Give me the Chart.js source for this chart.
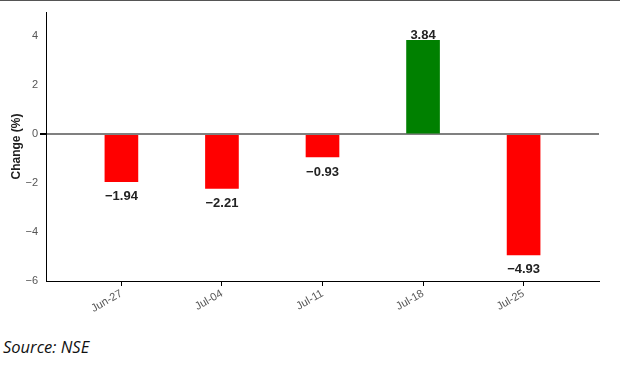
<!DOCTYPE html>
<html>
<head>
<meta charset="utf-8">
<script src="https://cdn.jsdelivr.net/npm/chart.js@4/dist/chart.umd.min.js"></script>
<style>
  body { margin: 0; background: #fff; }
  #wrap { position: relative; width: 620px; height: 372px; overflow: hidden; }
  #topline { position: absolute; left: 0; top: 0; width: 620px; height: 1px; background: #555; }
  #chart-box { position: absolute; left: 0; top: 0; width: 620px; height: 312px; }
  #source { position: absolute; left: 3px; top: 335px; font-family: 'Open Sans', sans-serif; font-style: italic; font-size: 16.5px; color: #111; }
</style>
</head>
<body>
<div id="wrap">
  <div id="chart-box"><canvas id="chart"></canvas></div>
  <div id="topline"></div>
  <div id="source">Source: NSE</div>
</div>
<script>
'use strict';
const categories = ['Jun-27', 'Jul-04', 'Jul-11', 'Jul-18', 'Jul-25'];
const changes = [-1.94, -2.21, -0.93, 3.84, -4.93];
const yTicks = [-6, -4, -2, 0, 2, 4];

const red = '#ff0000';
const green = '#008000';

function minusSign(v) {
  return String(v).replace('-', '\u2212');
}

// value labels above / below each bar
const barLabels = {
  id: 'barLabels',
  afterDatasetsDraw(chart) {
    const ctx = chart.ctx;
    const meta = chart.getDatasetMeta(0);
    ctx.save();
    ctx.font = 'bold 13px "Liberation Sans", Arial, sans-serif';
    ctx.fillStyle = '#222';
    ctx.textAlign = 'center';
    ctx.textBaseline = 'middle';
    meta.data.forEach(function (bar, i) {
      const v = changes[i];
      const txt = minusSign(v.toFixed(2));
      if (v >= 0) {
        ctx.fillText(txt, bar.x, bar.y - 5);
      } else {
        ctx.fillText(txt, bar.x, bar.y + 15);
      }
    });
    ctx.restore();
  }
};

const points = [];
for (let i = 0; i < changes.length; i++) {
  points.push({ x: i, y: changes[i] });
}

new Chart(document.getElementById('chart'), {
  type: 'bar',
  data: {
    datasets: [{
      data: points,
      backgroundColor: changes.map(v => v >= 0 ? green : red),
      borderWidth: 0,
      barThickness: 33
    }]
  },
  options: {
    responsive: true,
    maintainAspectRatio: false,
    animation: false,
    layout: { padding: { left: 0, top: 12, right: 21, bottom: 0 } },
    plugins: { legend: { display: false }, tooltip: { enabled: false } },
    scales: {
      x: {
        type: 'linear',
        offset: false,
        min: -0.75,
        max: 4.75,
        afterBuildTicks(scale) {
          scale.ticks = categories.map((c, i) => ({ value: i }));
        },
        afterFit(scale) { scale.height = 31; },
        grid: { offset: false, drawOnChartArea: false, drawTicks: true, tickLength: 5, tickColor: '#000' },
        border: { display: true, color: '#000', width: 1 },
        ticks: {
          autoSkip: false,
          maxRotation: 30,
          minRotation: 30,
          padding: 1,
          color: '#555',
          font: { family: '"Liberation Sans", Arial, sans-serif', size: 11 },
          callback: (v, i) => categories[i]
        }
      },
      y: {
        min: -6,
        max: 5,
        afterBuildTicks(scale) {
          scale.ticks = yTicks.map(v => ({ value: v }));
        },
        afterFit(scale) { scale.width = 46; },
        grid: {
          drawTicks: true,
          tickLength: 6,
          tickColor: '#000',
          color: c => (c.tick && c.tick.value === 0) ? '#808080' : 'rgba(0,0,0,0)',
          lineWidth: c => (c.tick && c.tick.value === 0) ? 2 : 0
        },
        border: { display: true, color: '#000', width: 1 },
        ticks: {
          padding: 2,
          color: '#555',
          font: { family: '"Liberation Sans", Arial, sans-serif', size: 11 },
          callback: v => minusSign(v)
        },
        title: {
          display: true,
          text: 'Change (%)',
          color: '#222',
          padding: { top: 9, bottom: 0 },
          font: { family: '"Liberation Sans", Arial, sans-serif', size: 12, weight: 'bold' }
        }
      }
    }
  },
  plugins: [barLabels]
});
</script>
</body>
</html>
